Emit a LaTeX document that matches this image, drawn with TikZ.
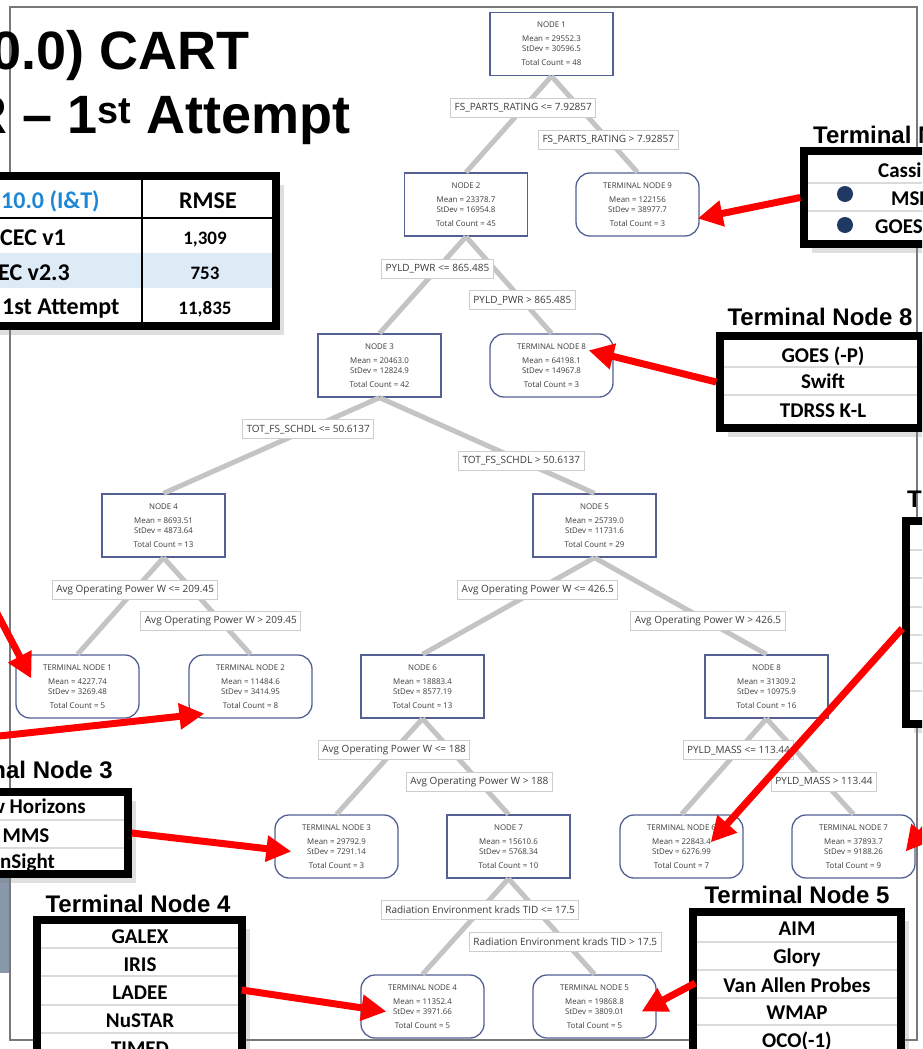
\documentclass[tikz,border=0pt]{standalone}
\usepackage{fontspec}
\usetikzlibrary{arrows.meta,calc,shadows}

\newfontfamily\arialfont{Liberation Sans}
\newfontfamily\calfont{Carlito}
\newfontfamily\uifont{Open Sans}

\definecolor{nodeblue}{RGB}{84,96,148}
\definecolor{branchgray}{RGB}{196,196,196}
\definecolor{rulegray}{RGB}{205,205,205}
\definecolor{tngray}{RGB}{60,60,60}
\definecolor{hdrblue}{RGB}{30,136,215}
\definecolor{rowblue}{RGB}{221,235,247}
\definecolor{rowline}{RGB}{218,218,218}
\definecolor{slate}{RGB}{136,151,169}
\definecolor{framegray}{RGB}{120,120,120}
\definecolor{bulletblue}{RGB}{31,56,100}

\begin{document}
\begin{tikzpicture}[x=1pt,y=-1pt,
  split/.style={draw=nodeblue,line width=1.3pt,fill=white,minimum width=123pt,minimum height=63pt,inner sep=0pt,align=center,text=tngray,font=\uifont\fontsize{7.9}{10}\selectfont},
  leaf/.style={split,rounded corners=14pt},
  branch/.style={draw=branchgray,line width=5pt},
  rule/.style={draw=rulegray,line width=1pt,fill=white,text=tngray,minimum height=19pt,inner xsep=4pt,inner ysep=0pt,font=\uifont\fontsize{10}{12}\selectfont},
  tblbox/.style={draw=black,line width=7.5pt,fill=white,inner sep=0pt,drop shadow={shadow xshift=8pt,shadow yshift=-9pt,opacity=.25}},
  sepline/.style={draw=rowline,line width=1.2pt},
  cell/.style={font=\calfont\bfseries\fontsize{21}{24}\selectfont,inner sep=0pt},
  rmsecell/.style={font=\calfont\bfseries\fontsize{24}{28}\selectfont,inner sep=0pt},
  rmsenum/.style={font=\calfont\bfseries\fontsize{19}{22}\selectfont,inner sep=0pt},
  tbltitle/.style={font=\arialfont\bfseries\fontsize{24}{28}\selectfont,inner sep=0pt},
  bigtitle/.style={font=\arialfont\bfseries\fontsize{54}{60}\selectfont,inner sep=0pt},
  pointer/.style={draw=red,line width=7pt,-{Triangle[length=25pt,width=25pt]}}]

\useasboundingbox (0,0) rectangle (922,1049);
\clip (0,0) rectangle (922,1049);
\fill[white] (0,0) rectangle (922,1049);

% slide strip and screenshot frame
\fill[slate] (0,870) rectangle (9,973);
\draw[framegray,line width=1.5pt] (10,7) rectangle (917,1040);

% tree
\node[split] (n1) at (551.5,44) {NODE 1\\[4pt]Mean = 29552.3\\StDev = 30596.5\\[4pt]Total Count = 48};
\node[split] (n2) at (466,204.5) {NODE 2\\[4pt]Mean = 23378.7\\StDev = 16954.8\\[4pt]Total Count = 45};
\node[leaf] (t9) at (637.5,204.5) {TERMINAL NODE 9\\[4pt]Mean = 122156\\StDev = 38977.7\\[4pt]Total Count = 3};
\node[split] (n3) at (379.5,365.5) {NODE 3\\[4pt]Mean = 20463.0\\StDev = 12824.9\\[4pt]Total Count = 42};
\node[leaf] (t8) at (551.5,365.5) {TERMINAL NODE 8\\[4pt]Mean = 64198.1\\StDev = 14967.8\\[4pt]Total Count = 3};
\node[split] (n4) at (163.5,525.5) {NODE 4\\[4pt]Mean = 8693.51\\StDev = 4873.64\\[4pt]Total Count = 13};
\node[split] (n5) at (594.5,525.5) {NODE 5\\[4pt]Mean = 25739.0\\StDev = 11731.6\\[4pt]Total Count = 29};
\node[leaf] (t1) at (77.5,686.5) {TERMINAL NODE 1\\[4pt]Mean = 4227.74\\StDev = 3269.48\\[4pt]Total Count = 5};
\node[leaf] (t2) at (250.5,686.5) {TERMINAL NODE 2\\[4pt]Mean = 11484.6\\StDev = 3414.95\\[4pt]Total Count = 8};
\node[split] (n6) at (422.5,686.5) {NODE 6\\[4pt]Mean = 18883.4\\StDev = 8577.19\\[4pt]Total Count = 13};
\node[split] (n8) at (766.5,686.5) {NODE 8\\[4pt]Mean = 31309.2\\StDev = 10975.9\\[4pt]Total Count = 16};
\node[leaf] (t3) at (336.5,846.5) {TERMINAL NODE 3\\[4pt]Mean = 29792.9\\StDev = 7291.14\\[4pt]Total Count = 3};
\node[split] (n7) at (508.5,846.5) {NODE 7\\[4pt]Mean = 15610.6\\StDev = 5768.34\\[4pt]Total Count = 10};
\node[leaf] (t6) at (681.5,846.5) {TERMINAL NODE 6\\[4pt]Mean = 22843.4\\StDev = 6276.99\\[4pt]Total Count = 7};
\node[leaf] (t7) at (853.5,846.5) {TERMINAL NODE 7\\[4pt]Mean = 37893.7\\StDev = 9188.26\\[4pt]Total Count = 9};
\node[leaf] (t4) at (422.5,1006.5) {TERMINAL NODE 4\\[4pt]Mean = 11352.4\\StDev = 3971.66\\[4pt]Total Count = 5};
\node[leaf] (t5) at (594.5,1006.5) {TERMINAL NODE 5\\[4pt]Mean = 19868.8\\StDev = 3809.01\\[4pt]Total Count = 5};

\foreach \a/\b in {n1/n2,n1/t9,n2/n3,n2/t8,n3/n4,n3/n5,n4/t1,n4/t2,n5/n6,n5/n8,n6/t3,n6/n7,n8/t6,n8/t7,n7/t4,n7/t5}
  \draw[branch] (\a.south) -- (\b.north);

\foreach \a/\b/\p/\txt in {
    n1/n2/.33/{FS\_PARTS\_RATING <= 7.92857},
    n1/t9/.66/{FS\_PARTS\_RATING > 7.92857},
    n2/n3/.33/{PYLD\_PWR <= 865.485},
    n2/t8/.66/{PYLD\_PWR > 865.485},
    n3/n4/.33/{TOT\_FS\_SCHDL <= 50.6137},
    n3/n5/.66/{TOT\_FS\_SCHDL > 50.6137},
    n4/t1/.33/{Avg Operating Power W <= 209.45},
    n4/t2/.66/{Avg Operating Power W > 209.45},
    n5/n6/.33/{Avg Operating Power W <= 426.5},
    n5/n8/.66/{Avg Operating Power W > 426.5},
    n6/t3/.33/{Avg Operating Power W <= 188},
    n6/n7/.66/{Avg Operating Power W > 188},
    n8/t6/.33/{PYLD\_MASS <= 113.44},
    n8/t7/.66/{PYLD\_MASS > 113.44},
    n7/t4/.33/{Radiation Environment krads TID <= 17.5},
    n7/t5/.66/{Radiation Environment krads TID > 17.5}}
  \path (\a.south) -- (\b.north) node[rule,pos=\p] {\txt};

% slide title
\node[bigtitle,anchor=base west] (title1) at (-9,70) {0.0) CART};
\node[bigtitle,anchor=base west] (title2) at (-32,133) {R – 1\textsuperscript{st} Attempt};

% RMSE table
\node[tblbox,minimum width=296pt,minimum height=150pt] (rmse) at (128,251) {};
\fill[rowblue] (-20,253) rectangle (272,288);
\draw[line width=2pt] (-20,218) -- (272,218);
\draw[line width=2pt] (142,180) -- (142,322);
\node[rmsecell,anchor=base west,text=hdrblue] (hdr1) at (1,208) {10.0 (I\&T)};
\node[rmsecell,anchor=base] (hdr2) at (208,208) {RMSE};
\node[rmsecell,anchor=base west] (row1) at (0,245) {CEC v1};
\node[rmsenum,anchor=base] (val1) at (205,244) {1,309};
\node[rmsecell,anchor=base west] (row2) at (-2,280) {EC v2.3};
\node[rmsenum,anchor=base] (val2) at (205,279) {753};
\node[rmsecell,anchor=base west] (row3) at (2,314) {1st Attempt};
\node[rmsenum,anchor=base] (val3) at (205,314) {11,835};

% terminal node 9 list
\node[tbltitle,anchor=base west] (ttl9) at (813,143) {Terminal N};
\node[tblbox,minimum width=136pt,minimum height=93pt] (tab9) at (872,197.5) {};
\foreach \y in {183,211} \draw[sepline] (808,\y) -- (922,\y);
\node[cell,anchor=base west] (c9a) at (878,177) {Cassi};
\node[circle,fill=bulletblue,minimum size=16pt,inner sep=0pt] (dot1) at (845,194) {};
\node[cell,anchor=base west] (c9b) at (891,205) {MSL};
\node[circle,fill=bulletblue,minimum size=16pt,inner sep=0pt] (dot2) at (845,225) {};
\node[cell,anchor=base west] (c9c) at (875,233) {GOES};

% terminal node 8 list
\node[tbltitle,anchor=base] (ttl8) at (820,325) {Terminal Node 8};
\node[tblbox,minimum width=201pt,minimum height=92pt] (tab8) at (820.5,382) {};
\foreach \y in {367,395} \draw[sepline] (724,\y) -- (917,\y);
\node[cell,anchor=base] (c8a) at (823,362) {GOES (-P)};
\node[cell,anchor=base] (c8b) at (823,388) {Swift};
\node[cell,anchor=base] (c8c) at (823,417) {TDRSS K-L};

% terminal node 6 list
\node[tbltitle,anchor=base west] (ttl6) at (907,507) {T};
\node[tblbox,minimum width=54pt,minimum height=203pt] (tab6) at (933,622.5) {};
\foreach \y in {550,578,607,635,663,691} \draw[sepline] (910,\y) -- (922,\y);

% terminal node 3 list
\node[tbltitle,anchor=base east] (ttl3) at (113,778) {nal Node 3};
\node[tblbox,minimum width=148pt,minimum height=82pt] (tab3) at (54,833) {};
\foreach \y in {820,848} \draw[sepline] (0,\y) -- (124,\y);
\node[cell,anchor=base east] (c3a) at (86,813) {w Horizons};
\node[cell,anchor=base] (c3b) at (26,842) {MMS};
\node[cell,anchor=base west] (c3c) at (0,868) {nSight};

% terminal node 4 list
\node[tbltitle,anchor=base] (ttl4) at (138,912) {Terminal Node 4};
\node[tblbox,minimum width=205pt,minimum height=160pt] (tab4) at (139.5,1000) {};
\foreach \y in {948,976,1005,1033} \draw[sepline] (41,\y) -- (238,\y);
\node[cell,anchor=base] (c4a) at (140,943) {GALEX};
\node[cell,anchor=base] (c4b) at (140,971) {IRIS};
\node[cell,anchor=base] (c4c) at (140,999) {LADEE};
\node[cell,anchor=base] (c4d) at (140,1027) {NuSTAR};
\node[cell,anchor=base] (c4e) at (140,1055) {TIMED};

% terminal node 5 list
\node[tbltitle,anchor=base] (ttl5) at (797,903) {Terminal Node 5};
\node[tblbox,minimum width=208pt,minimum height=168pt] (tab5) at (797,996) {};
\foreach \y in {942,970,998,1025} \draw[sepline] (697,\y) -- (897,\y);
\node[cell,anchor=base] (c5a) at (797,935) {AIM};
\node[cell,anchor=base] (c5b) at (797,963) {Glory};
\node[cell,anchor=base] (c5c) at (797,992) {Van Allen Probes};
\node[cell,anchor=base] (c5d) at (797,1019) {WMAP};
\node[cell,anchor=base] (c5e) at (797,1047) {OCO(-1)};

% red pointers
\coordinate (tail1) at (-10,600);
\coordinate (tail2) at (-10,737);
\coordinate (tail7) at (940,810);
\coordinate (tip9) at ($(t9.east)+(-2,14)$);
\coordinate (tip8) at ($(t8.north east)+(-25,17)$);
\coordinate (tip6) at ($(t6.north east)+(-33,28)$);
\coordinate (tip1) at ($(t1.west)+(16,-8)$);
\coordinate (tip2) at ($(t2.south west)+(16,-5)$);
\coordinate (tip3) at ($(t3.west)+(17,5)$);
\coordinate (tip4) at ($(t4.west)+(26,5)$);
\coordinate (tip5) at ($(t5.east)+(-15,5)$);
\coordinate (tip7) at ($(t7.east)+(-10,5)$);
\draw[pointer] (tab9.west) -- (tip9);
\draw[pointer] (tab8.west) -- (tip8);
\draw[pointer] ($(tab6.west)+(0,6)$) -- (tip6);
\draw[pointer] (tail1) -- (tip1);
\draw[pointer] (tail2) -- (tip2);
\draw[pointer] (tab3.east) -- (tip3);
\draw[pointer] ($(tab4.east)+(-4,-10)$) -- (tip4);
\draw[pointer] ($(tab5.west)+(6,-13)$) -- (tip5);
\draw[pointer] (tail7) -- (tip7);
\end{tikzpicture}
\end{document}
